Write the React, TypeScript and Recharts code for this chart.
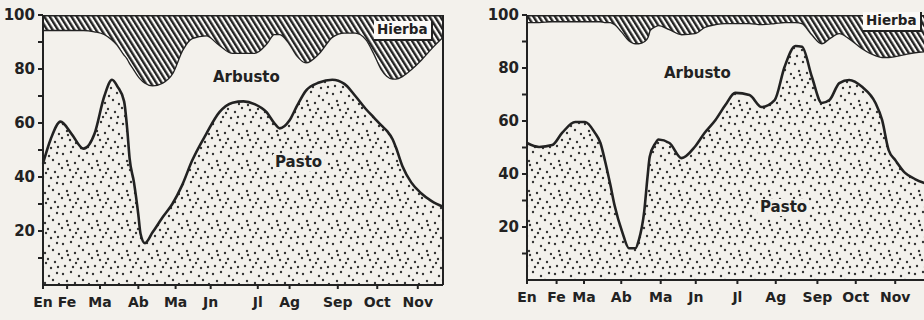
import React from 'react';
import { AreaChart, Area, XAxis, YAxis, ReferenceLine } from 'recharts';

// etiquetas de meses
const meses = ['En', 'Fe', 'Ma', 'Ab', 'Ma', 'Jn', 'Jl', 'Ag', 'Sep', 'Oct', 'Nov'];

// posición de cada mes (días) en cada gráfico
const mesesIzq = [0, 22, 52, 87, 121, 153, 196, 225, 269, 305, 342];
const mesesDer = [0, 27, 52, 86, 122, 154, 192, 227, 265, 300, 336];

const ticksY = [10, 20, 30, 40, 50, 60, 70, 80, 90, 100];

// gráfico izquierdo (% de la dieta)
const diaIzq = [0, 7, 16, 26, 37, 47, 56, 63, 68, 74, 77, 79, 83, 87, 89, 93, 100, 109, 118, 127, 136, 149, 161, 173, 183, 193, 204, 211, 216, 225, 232, 240, 252, 264, 275, 285, 295, 302, 309, 314, 319, 322, 328, 336, 345, 355, 365];
const pastoIzq = [45, 54, 60.5, 56, 50.5, 56, 70, 76, 73.5, 68, 57, 47, 38, 26, 19, 15.5, 19.5, 25, 30, 37, 46, 56, 64, 67.5, 68, 67, 64, 60, 58, 61, 66.5, 72, 75, 76, 74.5, 70, 65, 62, 59, 57, 54, 51, 44, 38, 34, 31, 29];
const arbustoIzq = [49.5, 40.5, 34, 38.5, 44, 38, 23, 15, 15.5, 17.5, 27, 35.5, 42, 51.5, 57.5, 59.5, 54.5, 50, 48.5, 50, 45.5, 36.5, 25, 18.5, 18, 19, 25.5, 33, 35, 28.5, 18.5, 10.5, 11, 16, 19, 23.5, 26, 24, 21, 20.5, 22.5, 25.5, 33.5, 42, 49.5, 57, 63];
const hierbaIzq = [5.5, 5.5, 5.5, 5.5, 5.5, 6, 7, 9, 11, 14.5, 16, 17.5, 20, 22.5, 23.5, 25, 26, 25, 21.5, 13, 8.5, 7.5, 11, 14, 14, 14, 10.5, 7, 7, 10.5, 15, 17.5, 14, 8, 6.5, 6.5, 9, 14, 20, 22.5, 23.5, 23.5, 22.5, 20, 16.5, 12, 8];

// gráfico derecho
const diaDer = [0, 11, 23, 32, 44, 53, 62, 67, 71, 76, 80, 87, 93, 99, 102, 107, 110, 112, 117, 120, 130, 141, 153, 162, 172, 181, 190, 203, 214, 226, 235, 245, 251, 260, 269, 276, 285, 294, 306, 318, 324, 330, 336, 345, 354, 365];
const pastoDer = [51.7, 50.2, 50.9, 55.5, 59.6, 59.6, 55.5, 51.7, 45.3, 36, 28, 18, 12, 12, 15, 26, 39, 46.5, 51.5, 53, 51.7, 46, 50.2, 55.5, 60.4, 66, 70.6, 69.8, 65.3, 67.9, 80.4, 88.3, 88, 76.6, 66.8, 67.9, 74.3, 75.5, 72.8, 66.8, 60.4, 49, 45.3, 40.4, 38.1, 36.2];
const arbustoDer = [45.7, 47.2, 46.8, 42.2, 38.1, 38.1, 42.2, 46, 52.1, 61.4, 68.6, 75.6, 78.6, 77.4, 74.4, 64.2, 52.7, 47.8, 44.3, 43.2, 43, 46.8, 43, 40, 36.2, 31, 26.4, 27.2, 31.3, 29.1, 17, 9.1, 9, 16.2, 22.6, 23.4, 18.9, 15.8, 14.7, 18.1, 23.8, 35.2, 39.2, 44.9, 47.9, 50.2];
const hierbaDer = [2.6, 2.6, 2.3, 2.3, 2.3, 2.3, 2.3, 2.3, 2.6, 2.6, 3.4, 6.4, 9.4, 10.6, 10.6, 9.8, 8.3, 5.7, 4.2, 3.8, 5.3, 7.2, 6.8, 4.5, 3.4, 3, 3, 3, 3.4, 3, 2.6, 2.6, 3, 7.2, 10.6, 8.7, 6.8, 8.7, 12.5, 15.1, 15.8, 15.8, 15.5, 14.7, 14, 13.6];

const armar = (dias: number[], pasto: number[], arbusto: number[], hierba: number[]) =>
    dias.map((dia, i) => ({ dia, pasto: pasto[i], arbusto: arbusto[i], hierba: hierba[i] }));

const datosIzq = armar(diaIzq, pastoIzq, arbustoIzq, hierbaIzq);
const datosDer = armar(diaDer, pastoDer, arbustoDer, hierbaDer);

const TINTA = '#222';
const PAPEL = '#f3f1ec';
const fuente = 'DejaVu Sans';

// puntos del punteado (dentro de una tesela de 30x30)
const puntos = [[3, 4], [11, 2], [19, 6], [27, 3], [7, 11], [15, 13], [23, 10], [29, 14], [2, 18], [10, 20], [18, 19], [25, 22], [5, 26], [13, 27], [21, 28], [28, 27], [16, 23], [8, 15]];

interface EtiquetaProps { texto: string; x: number; y: number; caja?: boolean; fondo?: boolean; size?: number }

const Etiqueta: React.FC<EtiquetaProps> = ({ texto, x, y, caja, fondo, size = 15 }) => (
    <div style={{
        position: 'absolute', left: x, top: y, fontFamily: fuente, fontWeight: 'bold', fontSize: size,
        lineHeight: 1, color: TINTA, whiteSpace: 'nowrap',
        ...(fondo ? { background: PAPEL, padding: '1px 2px' } : {}),
        ...(caja ? { background: '#fbfaf7', padding: '2px 3px', borderRight: `2px solid ${TINTA}`, borderBottom: `2px solid ${TINTA}` } : {})
    }}>{texto}</div>
);

interface GraficoProps {
    id: string;
    datos: { dia: number; pasto: number; arbusto: number; hierba: number }[];
    ticksMes: number[];
    ancho: number;
    anchoEjeY: number;
    altoEjeX: number;
}

const Grafico: React.FC<GraficoProps> = ({ id, datos, ticksMes, ancho, anchoEjeY, altoEjeX }) => (
    <AreaChart width={ancho} height={320} data={datos} margin={{ top: 15, right: ancho - anchoEjeY - 400, left: 0, bottom: 0 }}>
        <defs>
            <pattern id={`rayas-${id}`} patternUnits="userSpaceOnUse" width={4.6} height={10} patternTransform="rotate(-32)">
                <rect width={4.6} height={10} fill="#fbfaf7" />
                <line x1={1.2} y1={0} x2={1.2} y2={10} stroke={TINTA} strokeWidth={2.4} />
            </pattern>
            <pattern id={`puntos-${id}`} patternUnits="userSpaceOnUse" width={30} height={30}>
                <rect width={30} height={30} fill={PAPEL} />
                {puntos.map(([cx, cy], i) => <circle key={i} cx={cx} cy={cy} r={1.2} fill="#333" />)}
            </pattern>
        </defs>
        <XAxis type="number" dataKey="dia" domain={[0, 365]} ticks={ticksMes} interval={0}
            tickFormatter={(_v: number, i: number) => meses[i]} height={altoEjeX}
            tickSize={4} tickMargin={8} stroke={TINTA} strokeWidth={2}
            tick={{ fontFamily: fuente, fontWeight: 'bold', fontSize: 14, fill: TINTA }} />
        <YAxis type="number" domain={[0, 100]} ticks={ticksY} interval={0} width={anchoEjeY}
            tickFormatter={(v: number) => (v % 20 === 0 ? String(v) : '')}
            tickSize={5} tickMargin={3} stroke={TINTA} strokeWidth={2} allowDataOverflow
            tick={{ fontFamily: fuente, fontWeight: 'bold', fontSize: 15, fill: TINTA }} />
        <Area type="monotone" dataKey="pasto" stackId="1" stroke={TINTA} strokeWidth={2.6} fill={`url(#puntos-${id})`} fillOpacity={1} isAnimationActive={false} />
        <Area type="monotone" dataKey="arbusto" stackId="1" stroke={TINTA} strokeWidth={2.6} fill="none" isAnimationActive={false} />
        <Area type="monotone" dataKey="hierba" stackId="1" stroke={TINTA} strokeWidth={3} fill={`url(#rayas-${id})`} fillOpacity={1} isAnimationActive={false} />
        <ReferenceLine x={365} stroke={TINTA} strokeWidth={2} />
    </AreaChart>
);

export default function App() {
    return (
        <div style={{ position: 'absolute', left: 0, top: 0, width: 924, height: 320, overflow: 'hidden', background: PAPEL }}>
            <div style={{ position: 'absolute', left: 0, top: 0 }}>
                <Grafico id="izq" datos={datosIzq} ticksMes={mesesIzq} ancho={462} anchoEjeY={43} altoEjeX={35} />
                <Etiqueta texto="Hierba" x={374} y={21} caja size={13.5} />
                <Etiqueta texto="Arbusto" x={213} y={70} />
                <Etiqueta texto="Pasto" x={273} y={154} fondo />
            </div>
            <div style={{ position: 'absolute', left: 462, top: 0 }}>
                <Grafico id="der" datos={datosDer} ticksMes={mesesDer} ancho={466} anchoEjeY={65} altoEjeX={40} />
                <Etiqueta texto="Arbusto" x={202} y={66} />
                <Etiqueta texto="Pasto" x={296} y={199} fondo />
                <Etiqueta texto="Hierba" x={401} y={12} caja size={13.5} />
            </div>
        </div>
    );
}
